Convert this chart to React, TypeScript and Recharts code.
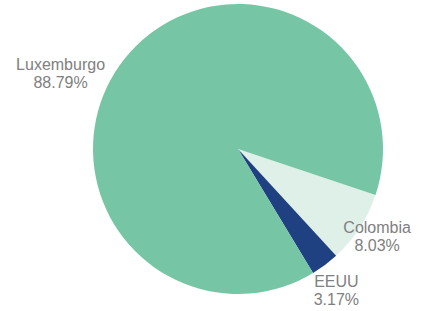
import React from "react";
import { PieChart, Pie, Cell } from "recharts";

const names = ["Colombia", "EEUU", "Luxemburgo"];
const shares = [8.03, 3.17, 88.79];
const colors = ["#dff0e8", "#1f4081", "#76c6a5"];

const data = names.map((name, i) => ({ name, value: shares[i] }));

// label placement: [radius, angle shift in degrees]
const labelPlacement: Record<string, [number, number]> = {
  Colombia: [164, 1],
  EEUU: [172, -2],
  Luxemburgo: [193, 15.5],
};

const RAD = Math.PI / 180;

const renderLabel = (props: any) => {
  const { cx, cy, midAngle, name, value } = props;
  const [r, da] = labelPlacement[name] || [props.outerRadius + 20, 0];
  const a = (midAngle + da) * RAD;
  const x = cx + r * Math.cos(-a);
  const y = cy + r * Math.sin(-a);
  return (
    <text
      x={x}
      y={y}
      textAnchor="middle"
      fill="#808080"
      fontSize={16}
      fontFamily="'Liberation Sans', Arial, sans-serif"
    >
      <tspan x={x} dy={-3}>{name}</tspan>
      <tspan x={x} dy={18}>{value.toFixed(2)}%</tspan>
    </text>
  );
};

export default function App() {
  return (
    <div style={{ position: "absolute", left: 0, top: 0, width: 423, height: 311, background: "#fff" }}>
      <PieChart width={423} height={311} margin={{ top: 0, right: 0, bottom: 0, left: 0 }}>
        <Pie
          data={data}
          dataKey="value"
          nameKey="name"
          cx={238}
          cy={149}
          innerRadius={0}
          outerRadius={145}
          startAngle={-18.5}
          endAngle={-378.5}
          stroke="none"
          label={renderLabel}
          labelLine={false}
          isAnimationActive={false}
        >
          {data.map((d, i) => (
            <Cell key={d.name} fill={colors[i]} />
          ))}
        </Pie>
      </PieChart>
    </div>
  );
}
